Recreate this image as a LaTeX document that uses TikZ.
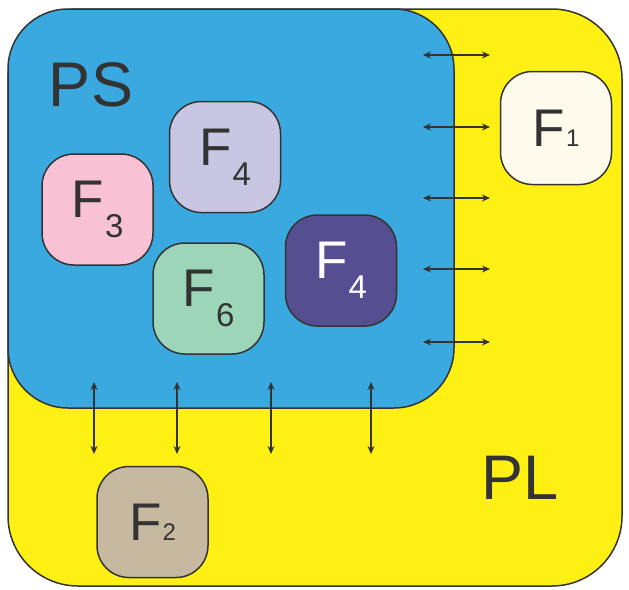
\documentclass[tikz,border=0pt]{standalone}
\usepackage{fontspec}
\setmainfont{Liberation Sans}
\usetikzlibrary{arrows.meta}
\definecolor{plyellow}{HTML}{FFF014}
\definecolor{psblue}{HTML}{3AA9E0}
\definecolor{linec}{HTML}{333333}
\definecolor{cpink}{HTML}{F8C1D4}
\definecolor{clav}{HTML}{C9C6E3}
\definecolor{cgreen}{HTML}{9DD5B8}
\definecolor{cdark}{HTML}{554F91}
\definecolor{ccream}{HTML}{FFFBEC}
\definecolor{ctan}{HTML}{C7B8A0}
\newcommand\Fbig[1]{F\kern1pt\raisebox{-20pt}{\fontsize{33}{33}\selectfont #1}}
\newcommand\Fsmall[1]{F\kern1pt{\fontsize{24}{24}\selectfont #1}}
\tikzset{
  region/.style={draw=linec, line width=1.5pt},
  fbox/.style={draw=linec, line width=1.5pt, rounded corners=32pt,
    minimum width=111pt, minimum height=111pt, inner sep=0pt,
    text=linec, font=\fontsize{53}{53}\selectfont},
  biglabel/.style={text=linec, inner sep=0pt, font=\fontsize{63}{63}\selectfont},
  dbl/.style={draw=linec, line width=1.7pt,
    {Stealth[length=8pt,width=7pt]}-{Stealth[length=8pt,width=7pt]}}
}
\begin{document}
\begin{tikzpicture}[x=1pt,y=-1pt]
\useasboundingbox (0,0) rectangle (629,589);
% PL region
\draw[region, fill=plyellow, rounded corners=70pt] (8,9) rectangle (622,586);
% PS region
\draw[region, fill=psblue, rounded corners=60pt] (8,9) rectangle (454,408);
\node[biglabel] (ps) at (91,85) {PS};
\node[biglabel] (pl) at (520,478) {PL};
% right arrows
\foreach \i/\y in {1/55,2/127,3/198,4/269,5/342}{
  \coordinate (ra\i) at (423,\y);
  \coordinate (rb\i) at (490,\y);
  \draw[dbl] (ra\i) -- (rb\i);
}
% down arrows
\foreach \i/\x in {1/94,2/177,3/271,4/371}{
  \coordinate (da\i) at (\x,382);
  \coordinate (db\i) at (\x,454);
  \draw[dbl] (da\i) -- (db\i);
}
% function boxes
\node[fbox, fill=ccream, minimum height=113pt] (f1) at (556,128) {\Fsmall{1}};
\node[fbox, fill=clav] (f4a) at (225,157) {\Fbig{4}};
\node[fbox, fill=cpink] (f3) at (97.5,209.5) {\Fbig{3}};
\node[fbox, fill=cgreen] (f6) at (208.5,298.5) {\Fbig{6}};
\node[fbox, fill=cdark, text=white] (f4b) at (341,270.5) {\Fbig{4}};
\node[fbox, fill=ctan] (f2) at (152.5,522) {\Fsmall{2}};
\end{tikzpicture}
\end{document}
